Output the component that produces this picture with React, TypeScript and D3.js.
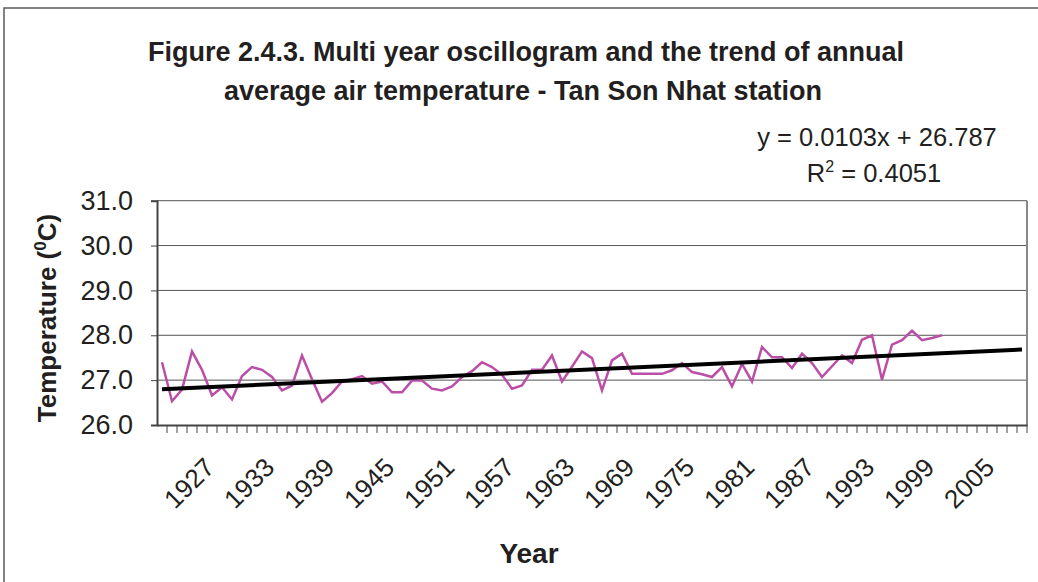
import React, { useEffect, useRef } from 'react';
import * as d3 from 'd3';

// chart data: annual mean air temperature, Tan Son Nhat
const years = d3.range(1922, 2009).map(String); // 87 categories
const temps = [
  27.40, 26.53, 26.79, 27.64, 27.23, 26.66, 26.84, 26.57, 27.09, 27.29,
  27.23, 27.07, 26.77, 26.88, 27.55, 27.02, 26.52, 26.71, 26.97, 27.02,
  27.09, 26.92, 26.97, 26.73, 26.73, 26.99, 26.99, 26.81, 26.77, 26.86,
  27.07, 27.20, 27.40, 27.29, 27.12, 26.81, 26.88, 27.23, 27.23, 27.55,
  26.97, 27.30, 27.64, 27.49, 26.77, 27.44, 27.59, 27.14, 27.14, 27.14,
  27.14, 27.22, 27.38, 27.18, 27.13, 27.07, 27.29, 26.86, 27.36, 26.97,
  27.74, 27.51, 27.51, 27.27, 27.59, 27.38, 27.07, 27.31, 27.55, 27.38,
  27.90, 28.00, 27.01, 27.79, 27.89, 28.10, 27.89, 27.94, 28.00,
];
const yTicks = [26, 27, 28, 29, 30, 31];
const xTickLabels = ['1927', '1933', '1939', '1945', '1951', '1957', '1963', '1969', '1975', '1981', '1987', '1993', '1999', '2005'];
// linear trend shown on the chart
const trendSlope = 0.0103;
const trendIntercept = 26.787;

const FONT = 'Arial, "Liberation Sans", sans-serif';
const INK = '#231f20';

const App = () => {
  const svgRef = useRef(null);

  useEffect(() => {
    const W = 1038;
    const H = 582;
    const margin = { top: 200.7, left: 157, right: 1027, bottom: 425 };

    const svg = d3.select(svgRef.current);
    svg.selectAll('*').remove();
    svg.attr('width', W).attr('height', H);

    // chart border
    svg.append('rect')
      .attr('x', 4).attr('y', 8)
      .attr('width', W + 20).attr('height', H + 20)
      .attr('fill', 'white')
      .attr('stroke', '#5a5a5a')
      .attr('stroke-width', 1.5);

    const x = d3.scaleBand()
      .domain(years)
      .range([margin.left, margin.right]);
    const y = d3.scaleLinear()
      .domain([26, 31])
      .range([margin.bottom, margin.top]);
    const cx = (d) => x(d) + x.bandwidth() / 2;

    // gridlines
    svg.append('g')
      .selectAll('line')
      .data(yTicks.slice(1))
      .enter()
      .append('line')
      .attr('x1', margin.left).attr('x2', margin.right)
      .attr('y1', d => y(d)).attr('y2', d => y(d))
      .attr('stroke', '#555')
      .attr('stroke-width', 1);

    // plot area right border
    svg.append('line')
      .attr('x1', margin.right).attr('x2', margin.right)
      .attr('y1', margin.top).attr('y2', margin.bottom)
      .attr('stroke', '#888')
      .attr('stroke-width', 2);

    // y axis
    const yAxis = svg.append('g')
      .attr('transform', `translate(${margin.left},0)`)
      .call(d3.axisLeft(y).tickValues(yTicks).tickFormat(d3.format('.1f')).tickSize(6).tickPadding(18));
    yAxis.select('.domain').attr('stroke', '#444').attr('stroke-width', 2);
    yAxis.selectAll('.tick line').attr('stroke', '#444');
    yAxis.selectAll('text')
      .attr('fill', INK)
      .style('font-family', FONT)
      .style('font-size', '27px');

    // x axis
    const xAxis = svg.append('g')
      .attr('transform', `translate(0,${margin.bottom})`)
      .call(d3.axisBottom(x).tickSize(0).tickFormat(() => ''));
    xAxis.select('.domain').attr('stroke', '#444').attr('stroke-width', 2);

    // category tick marks between years
    svg.append('g')
      .selectAll('line')
      .data(years.slice(1).concat(['end']))
      .enter()
      .append('line')
      .attr('x1', d => (d === 'end' ? margin.right : x(d)))
      .attr('x2', d => (d === 'end' ? margin.right : x(d)))
      .attr('y1', margin.bottom)
      .attr('y2', margin.bottom + 8)
      .attr('stroke', '#444')
      .attr('stroke-width', 1);

    svg.append('g')
      .selectAll('text')
      .data(xTickLabels)
      .enter()
      .append('text')
      .attr('transform', d => `translate(${cx(d) + 4},${margin.bottom + 44}) rotate(-45)`)
      .attr('text-anchor', 'end')
      .attr('fill', INK)
      .style('font-family', FONT)
      .style('font-size', '26px')
      .text(d => d);

    // temperature series
    const line = d3.line()
      .x((d, i) => cx(years[i]))
      .y(d => y(d));
    svg.append('path')
      .datum(temps)
      .attr('d', line)
      .attr('fill', 'none')
      .attr('stroke', '#bb4fa8')
      .attr('stroke-width', 2.5)
      .attr('stroke-linejoin', 'miter');

    // trend line
    const n = years.length;
    svg.append('line')
      .attr('x1', cx(years[0]))
      .attr('y1', y(trendIntercept + trendSlope * 1))
      .attr('x2', cx(years[n - 1]))
      .attr('y2', y(trendIntercept + trendSlope * n))
      .attr('stroke', '#000')
      .attr('stroke-width', 4);

    // title
    const title = svg.append('text')
      .attr('text-anchor', 'middle')
      .attr('fill', INK)
      .style('font-family', FONT)
      .style('font-size', '27px')
      .style('font-weight', 'bold');
    title.append('tspan').attr('x', 526).attr('y', 61)
      .text('Figure 2.4.3. Multi year oscillogram and the trend of annual');
    title.append('tspan').attr('x', 523).attr('y', 100)
      .text('average air temperature - Tan Son Nhat station');

    // trend equation
    svg.append('text')
      .attr('x', 877).attr('y', 146)
      .attr('text-anchor', 'middle')
      .attr('fill', INK)
      .style('font-family', FONT)
      .style('font-size', '25.5px')
      .text(`y = ${trendSlope}x + ${trendIntercept}`);
    const r2 = svg.append('text')
      .attr('x', 874).attr('y', 182)
      .attr('text-anchor', 'middle')
      .attr('fill', INK)
      .style('font-family', FONT)
      .style('font-size', '25.5px');
    r2.append('tspan').text('R');
    r2.append('tspan').attr('dy', -10).style('font-size', '16px').text('2');
    r2.append('tspan').attr('dy', 10).text(' = 0.4051');

    // axis titles
    const yTitle = svg.append('text')
      .attr('transform', 'translate(56,318) rotate(-90)')
      .attr('text-anchor', 'middle')
      .attr('fill', INK)
      .style('font-family', FONT)
      .style('font-size', '26px')
      .style('font-weight', 'bold');
    yTitle.append('tspan').text('Temperature (');
    yTitle.append('tspan').attr('dy', -10).style('font-size', '17px').text('0');
    yTitle.append('tspan').attr('dy', 10).text('C)');

    svg.append('text')
      .attr('x', 529).attr('y', 563)
      .attr('text-anchor', 'middle')
      .attr('fill', INK)
      .style('font-family', FONT)
      .style('font-size', '28px')
      .style('font-weight', 'bold')
      .text('Year');
  }, []);

  return (
    <svg ref={svgRef} style={{ position: 'absolute', left: 0, top: 0, display: 'block' }}></svg>
  );
};

export default App;
